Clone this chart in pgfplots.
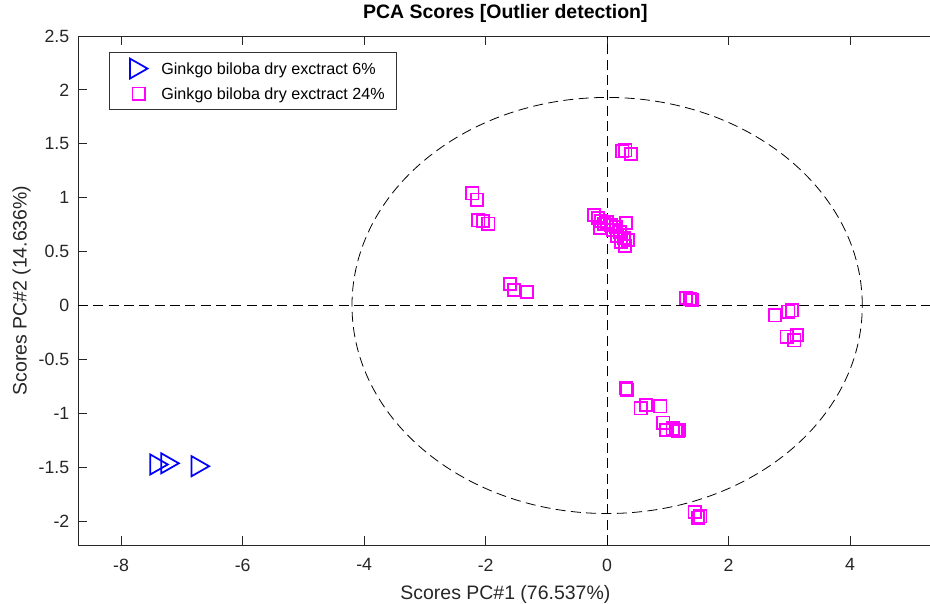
\documentclass[border=0pt]{standalone}
\usepackage{fontspec}
\setmainfont{Liberation Sans}
\usepackage{pgfplots}
\usepackage{pgfplotstable}
\pgfplotsset{compat=1.18}

% right-pointing isosceles triangle, centred on its bounding box
\pgfdeclareplotmark{rtri}{%
  \pgfpathmoveto{\pgfqpoint{\pgfplotmarksize}{0pt}}%
  \pgfpathlineto{\pgfqpoint{-\pgfplotmarksize}{1.14\pgfplotmarksize}}%
  \pgfpathlineto{\pgfqpoint{-\pgfplotmarksize}{-1.14\pgfplotmarksize}}%
  \pgfpathclose
  \pgfusepathqstroke}

\definecolor{mblue}{rgb}{0,0,1}
\definecolor{mmag}{rgb}{1,0,1}

% PCA scores, extract 6%
\pgfplotstableread{
x y
-7.376 -1.475
-7.195 -1.464
-6.696 -1.491
}\sixpct

% PCA scores, extract 24%
\pgfplotstableread{
x y
0.250 1.430
0.300 1.440
0.390 1.405
-2.219 1.041
-2.142 0.981
-2.120 0.790
-2.043 0.784
-1.957 0.759
-1.600 0.200
-1.534 0.144
-1.320 0.125
-0.216 0.840
-0.150 0.812
-0.100 0.784
-0.051 0.756
-0.117 0.719
0.000 0.775
0.064 0.747
0.147 0.728
0.311 0.765
0.212 0.682
0.278 0.626
0.229 0.589
0.295 0.552
0.344 0.608
0.163 0.645
0.097 0.700
1.300 0.070
1.365 0.060
1.397 0.051
2.764 -0.091
2.983 -0.058
3.039 -0.045
2.956 -0.289
3.121 -0.274
3.082 -0.323
0.310 -0.770
0.330 -0.781
0.553 -0.954
0.640 -0.923
0.876 -0.935
0.925 -1.088
0.970 -1.155
1.077 -1.139
1.134 -1.155
1.180 -1.152
1.159 -1.164
1.442 -1.916
1.493 -1.967
1.534 -1.956
}\twentyfourpct

\begin{document}
\begin{tikzpicture}
\begin{axis}[
  at={(0pt,0pt)}, anchor=south west,
  scale only axis,
  width=641.06pt, height=381.75pt,
  xmin=-8.71, xmax=5.36,
  ymin=-2.222, ymax=2.5,
  xtick={-8,-6,-4,-2,0,2,4},
  ytick={-2,-1.5,-1,-0.5,0,0.5,1,1.5,2,2.5},
  ytick pos=left,
  tick align=inside,
  major tick length=6.5pt,
  axis line style={black!85, line width=0.6pt},
  every tick/.style={black!85, line width=0.6pt},
  /pgf/number format/assume math mode=true,
  tick label style={font=\fontsize{13.3}{16}\selectfont, text=black!85},
  xticklabel style={yshift=-6.8pt},
  yticklabel style={xshift=-3pt},
  title={PCA Scores [Outlier detection]},
  title style={font=\fontsize{14.6}{17}\selectfont\bfseries,
    at={(axis description cs:0.5,1)}, anchor=base, yshift=7.5pt},
  xlabel={Scores PC\#1 (76.537\%)},
  ylabel={Scores PC\#2 (14.636\%)},
  label style={font=\fontsize{14.6}{17}\selectfont, text=black!85},
  xlabel style={at={(axis description cs:0.5,-0.108)}, anchor=base},
  ylabel style={at={(axis description cs:-0.060,0.5)}, anchor=base},
  legend cell align=left,
  legend style={
    at={(0.0363,0.9678)}, anchor=north west,
    draw=black!80, line width=0.5pt,
    inner xsep=8.5pt, inner ysep=3.4pt,
    font=\fontsize{12.1}{15}\selectfont,
    nodes={inner sep=0pt, text height=13pt, text depth=4pt},
    row sep=1.75pt, column sep=5pt,
  },
  legend image code/.code={%
    \path[draw=none, fill=none] (0pt,-6pt) rectangle (25.5pt,6pt);
    \draw plot coordinates {(13.5pt,0pt)};
  },
]
% reference lines through the origin and the confidence ellipse
\addplot[forget plot, black, line width=0.6pt, dash pattern=on 7.5pt off 4pt]
  coordinates {(0,-2.222) (0,2.5)};
\addplot[forget plot, black, line width=0.6pt, dash pattern=on 7.5pt off 4pt]
  coordinates {(-8.71,0) (5.36,0)};
\draw[black, line width=0.6pt, dash pattern=on 7.5pt off 4pt]
  (axis cs:0,0) ellipse [x radius=4.2, y radius=1.93];

\addplot[only marks, mark=rtri, mark size=6.6pt, draw=mblue,
  mark options={line width=1.3pt, fill=none, draw=mblue}]
  table[x=x, y=y] {\sixpct};
\addlegendentry{Ginkgo biloba dry exctract 6\%}

\addplot[only marks, mark=square, mark size=4.6pt, draw=mmag,
  mark options={line width=1.3pt, fill=none, draw=mmag}]
  table[x=x, y=y] {\twentyfourpct};
\addlegendentry{Ginkgo biloba dry exctract 24\%}
\end{axis}
\pgfresetboundingbox
\useasboundingbox (-58.5pt,-43.5pt) rectangle (639pt,408.75pt);
\end{tikzpicture}
\end{document}
